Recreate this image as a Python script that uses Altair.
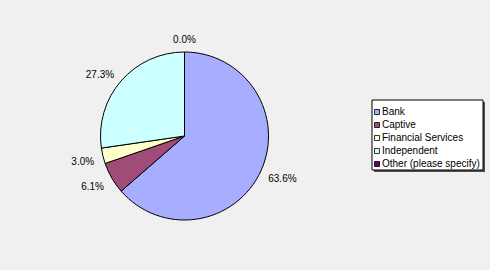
import altair as alt
import pandas as pd
import math

categories = ["Bank", "Captive", "Financial Services", "Independent", "Other (please specify)"]
values = [63.6, 6.1, 3.0, 27.3, 0.0]
colors = ["#a8aeff", "#a04c78", "#ffffcc", "#ccffff", "#660066"]

total = sum(values)
cum = 0.0
groups = []
for v in values:
    mid = (cum + v / 2) / total
    cum += v
    lower = math.cos(mid * 2 * math.pi) < 0
    if mid < 0.02 or mid > 0.98:
        groups.append("center")
    elif mid < 0.5:
        groups.append("right_low" if lower else "right_up")
    else:
        groups.append("left_low" if lower else "left_up")

df = pd.DataFrame({
    "category": categories,
    "value": values,
    "idx": list(range(len(categories))),
    "label": [f"{v:.1f}%" for v in values],
    "grp": groups,
})

CX, CY, R = 184.5, 136, 84

base = alt.Chart(df).encode(
    theta=alt.Theta("value:Q", stack=True),
    order=alt.Order("idx:Q", sort="ascending"),
    x=alt.value(CX),
    y=alt.value(CY),
)

arc = base.mark_arc(radius=R, stroke="black", strokeWidth=1).encode(
    color=alt.Color(
        "category:N",
        scale=alt.Scale(domain=categories, range=colors),
        sort=categories,
        legend=alt.Legend(
            title=None,
            orient="none",
            legendX=372,
            legendY=107,
            symbolType="square",
            symbolSize=25,
            symbolStrokeColor="black",
            symbolStrokeWidth=0.8,
            labelFont="Liberation Sans",
            labelFontSize=10,
            labelColor="black",
            labelOffset=0,
            rowPadding=3,
            padding=0,
        ),
    )
)

def text_layer(grp, align, radius, dy):
    return base.mark_text(
        radius=radius, align=align, baseline="middle", dy=dy,
        font="Liberation Sans", fontSize=10, color="black",
    ).transform_calculate(
        shown=f"datum.grp == '{grp}' ? datum.label : ''"
    ).encode(text="shown:N")

layers_text = [
    text_layer("right_low", "left", 92, 5),
    text_layer("right_up", "left", 92, 0),
    text_layer("left_low", "right", 93, 4),
    text_layer("left_up", "right", 93, 0),
    text_layer("center", "center", 96, 0),
]

box_df = pd.DataFrame({"a": [0]})
shadow = alt.Chart(box_df).mark_rect(color="#505050").encode(
    x=alt.value(374), x2=alt.value(485), y=alt.value(102), y2=alt.value(172)
)
box = alt.Chart(box_df).mark_rect(fill="white", stroke="black", strokeWidth=1).encode(
    x=alt.value(372), x2=alt.value(483), y=alt.value(100), y2=alt.value(170)
)

chart = alt.layer(shadow, box, arc, *layers_text).properties(
    width=490, height=270, background="#f0f0f0",
    autosize=alt.AutoSizeParams(type="none"), padding=0,
).configure_view(stroke=None)

chart.save("out.html", embed_options={"renderer": "svg", "actions": False})
